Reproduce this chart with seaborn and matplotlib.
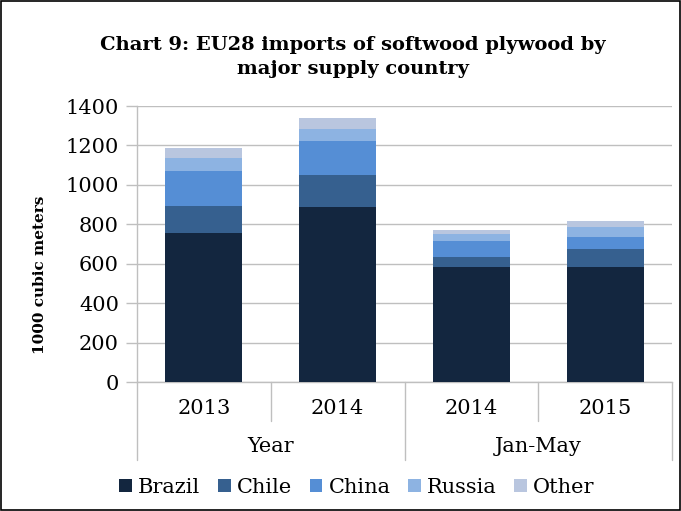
import matplotlib
matplotlib.use("Agg")
import matplotlib.pyplot as plt
import seaborn as sns
import pandas as pd
import numpy as np
from matplotlib.patches import Patch, Rectangle
from matplotlib.lines import Line2D
from matplotlib.transforms import blended_transform_factory

# ---- data ----
periods = ["2013", "2014", "2014", "2015"]
groups = ["Year", "Jan-May"]
group_sizes = [2, 2]
countries = ["Brazil", "Chile", "China", "Russia", "Other"]
brazil = [755, 886, 583, 583]
chile = [136, 165, 52, 91]
china = [177, 171, 81, 61]
russia = [69, 61, 33, 52]
other = [49, 55, 23, 31]
yticks = [0, 200, 400, 600, 800, 1000, 1200, 1400]
title = "Chart 9: EU28 imports of softwood plywood by\nmajor supply country"
ylabel = "1000 cubic meters"

colors = ["#13263f", "#36608f", "#558ed5", "#8db3e2", "#b9c6df"]

sns.set_theme(style="white")
plt.rcParams["font.family"] = ["DejaVu Serif"]
plt.rcParams["text.color"] = "black"
plt.rcParams["axes.labelcolor"] = "black"

keys = []
for g, n in zip(groups, group_sizes):
    keys += [g] * n
keys = [f"{g}|{p}|{i}" for i, (g, p) in enumerate(zip(keys, periods))]

series = [brazil, chile, china, russia, other]
cum = np.cumsum(np.array(series), axis=0)

fig = plt.figure(figsize=(6.81, 5.11), dpi=100)
ax = fig.add_axes([137/681, 1-382/511, (672-137)/681, (382-106)/511])

for i in range(len(countries) - 1, -1, -1):
    df = pd.DataFrame({"key": keys, "value": cum[i]})
    sns.barplot(data=df, x="key", y="value", color=colors[i], saturation=1,
                width=0.575, errorbar=None, ax=ax, linewidth=0, zorder=3)

ax.set_ylim(0, 1400)
ax.set_xlim(-0.5, len(keys) - 0.5)
ax.set_yticks(yticks)
ax.set_yticklabels([str(t) for t in yticks], fontsize=15)
ax.yaxis.grid(True, color="#bfbfbf", lw=1)
ax.set_axisbelow(True)
ax.tick_params(axis="y", length=8, color="#bfbfbf", labelcolor="black",
               width=1, pad=5, left=True)
ax.tick_params(axis="x", length=0, labelbottom=False)
ax.set_xlabel("")
ax.set_ylabel("")
for s in ["top", "right"]:
    ax.spines[s].set_visible(False)
for s in ["left", "bottom"]:
    ax.spines[s].set_color("#bfbfbf")
    ax.spines[s].set_linewidth(1)

# hierarchical category axis
trans = blended_transform_factory(ax.transData, ax.transAxes)
h = 276.0
for i, p in enumerate(periods):
    ax.text(i, -26/h, p, transform=trans, ha="center", va="center",
            fontsize=15, color="black")
pos = -0.5
bounds = [pos]
for n in group_sizes:
    for j in range(1, n):
        ax.add_line(Line2D([pos + j, pos + j], [0, -39/h], transform=trans,
                           color="#bfbfbf", lw=1, clip_on=False))
    pos += n
    bounds.append(pos)
for b in bounds:
    ax.add_line(Line2D([b, b], [0, -78/h], transform=trans,
                       color="#bfbfbf", lw=1, clip_on=False))
for g, a, b in zip(groups, bounds[:-1], bounds[1:]):
    ax.text((a + b) / 2, -64/h, g, transform=trans, ha="center", va="center",
            fontsize=15, color="black")

fig.text(0.518, 1-57/511, title, ha="center", va="center", fontsize=14,
         fontweight="bold", linespacing=1.4, color="black")
fig.text(40/681, 1-275/511, ylabel, rotation=90, ha="center", va="center",
         fontsize=11, fontweight="bold", color="black")

handles = [Patch(facecolor=c, edgecolor="none") for c in colors]
fig.legend(handles, countries, loc="center", bbox_to_anchor=(357/681, 1-487/511),
           ncol=5, frameon=False, fontsize=15, handlelength=0.6, handleheight=0.6,
           handletextpad=0.3, columnspacing=0.85, labelcolor="black")

fig.patches.append(Rectangle((0.002, 0.002), 0.996, 0.996, transform=fig.transFigure,
                             fill=False, edgecolor="black", lw=1.2))

fig.savefig("out.png", dpi=100)
